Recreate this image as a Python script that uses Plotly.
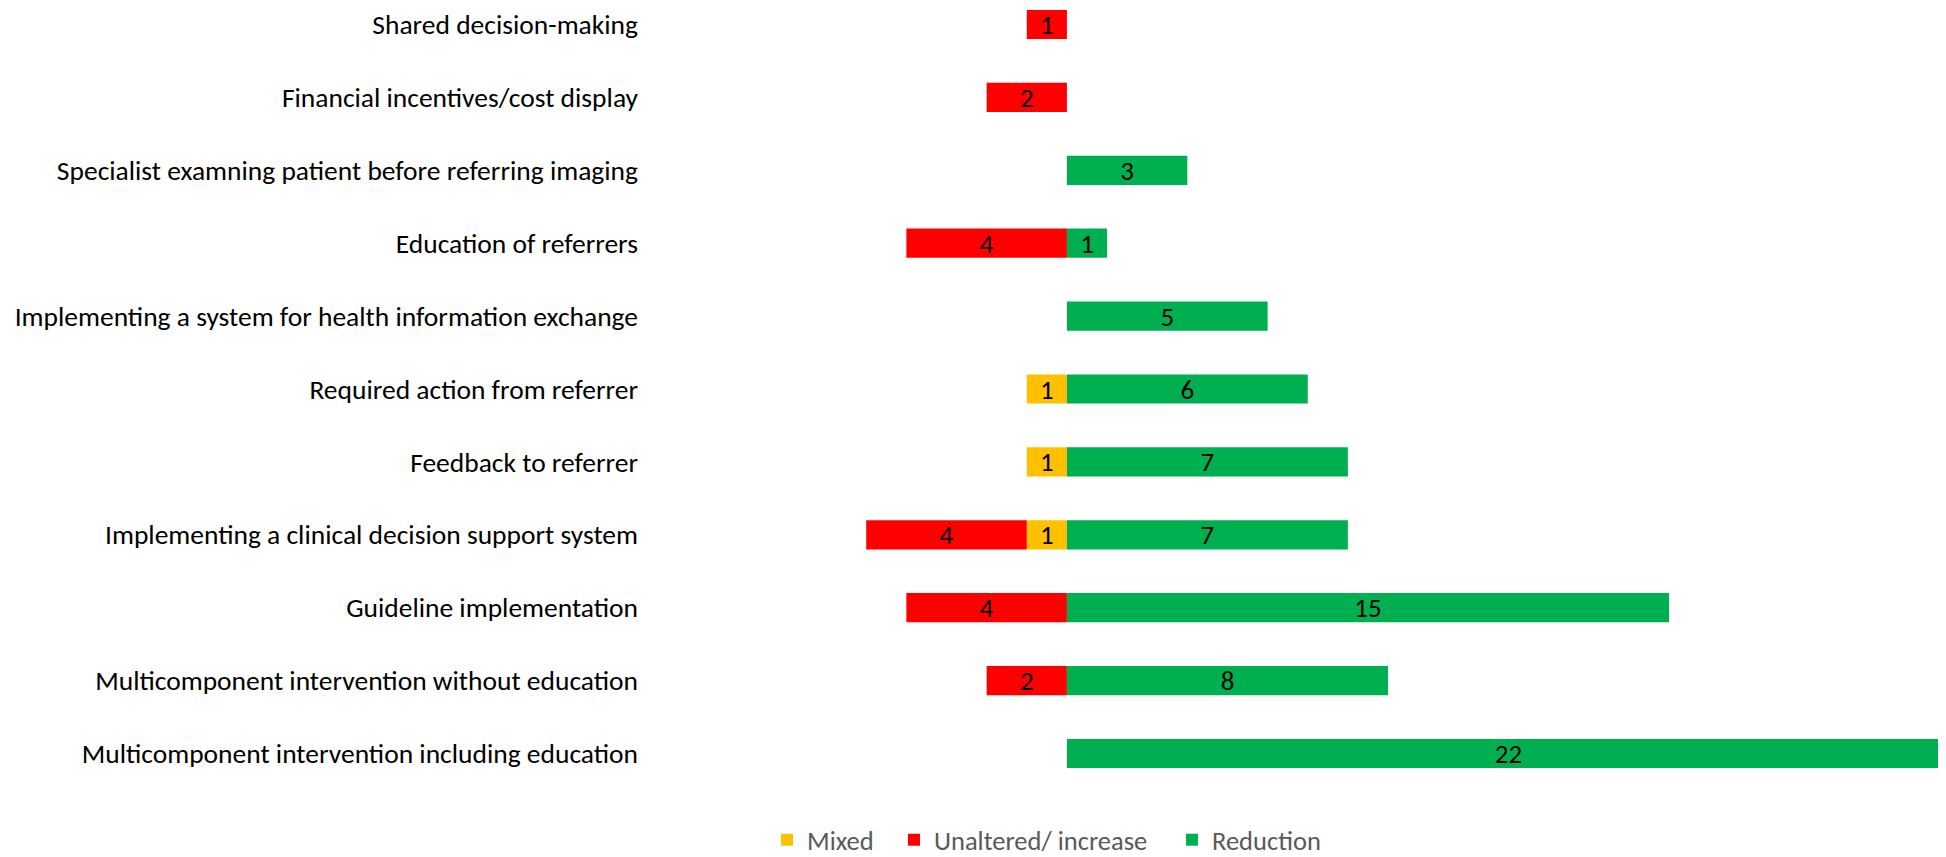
import plotly.graph_objects as go

categories = [
    "Shared decision-making",
    "Financial incentives/cost display",
    "Specialist examning patient before referring imaging",
    "Education of referrers",
    "Implementing a system for health information exchange",
    "Required action from referrer",
    "Feedback to referrer",
    "Implementing a clinical decision support system",
    "Guideline implementation",
    "Multicomponent intervention without education",
    "Multicomponent intervention including education",
]
mixed = [0, 0, 0, 0, 0, 1, 1, 1, 0, 0, 0]
unaltered = [1, 2, 0, 4, 0, 0, 0, 4, 4, 2, 0]
reduction = [0, 0, 3, 1, 5, 6, 7, 7, 15, 8, 22]

series_names = ["Mixed", "Unaltered/ increase", "Reduction"]
colors = ["#FFC000", "#FF0000", "#00B050"]

FONT = "Calibri, Carlito, 'Liberation Sans Narrow', 'Liberation Sans', sans-serif"

W, H = 1946, 857
L, R, B = 631, 4, 67
PW = W - L - R
PH = H - B
UNIT = 40.14

def vals(v, sign):
    return [sign * x if x else None for x in v]

def texts(v):
    return [str(x) if x else "" for x in v]

legend_ids = ["legend", "legend2", "legend3"]
legend_px = [759, 886, 1164]

fig = go.Figure()
for name, v, sign, c, lid in zip(series_names, [mixed, unaltered, reduction], [-1, -1, 1], colors, legend_ids):
    fig.add_trace(go.Bar(
        y=categories, x=vals(v, sign), orientation="h", name=name,
        marker=dict(color=c, line=dict(width=0)),
        text=texts(v), textposition="inside", insidetextanchor="middle",
        textangle=0, constraintext="none", cliponaxis=False,
        textfont=dict(family=FONT, size=27, color="black"),
        hoverinfo="skip", legend=lid,
    ))

legend_common = dict(orientation="h", y=-(856 - PH) / PH, xanchor="left", yanchor="bottom",
                     font=dict(family=FONT, size=26.5, color="#595959"),
                     itemwidth=30, bgcolor="rgba(0,0,0,0)")
leg = {}
for lid, px in zip(legend_ids, legend_px):
    leg[lid] = dict(legend_common, x=(px - L) / PW)

row_px = 72.9
top_off = 16.5
y_top = -top_off / row_px
y_bot = y_top + PH / row_px

fig.update_layout(
    width=W, height=H,
    barmode="relative", bargap=0.6,
    margin=dict(l=L, r=R, t=0, b=B, autoexpand=False),
    paper_bgcolor="white", plot_bgcolor="white",
    font=dict(family=FONT, size=27.5, color="#000000"),
    showlegend=True,
    xaxis=dict(range=[22 - PW / UNIT, 22], showgrid=False, zeroline=False, showticklabels=False,
               showline=False, ticks=""),
    yaxis=dict(type="category", categoryorder="array", categoryarray=categories,
               range=[y_bot, y_top], showgrid=False, zeroline=False, showline=False,
               ticks="", tickfont=dict(family=FONT, size=27.5, color="#000000")),
    **leg,
)

fig.write_html("out.html")
